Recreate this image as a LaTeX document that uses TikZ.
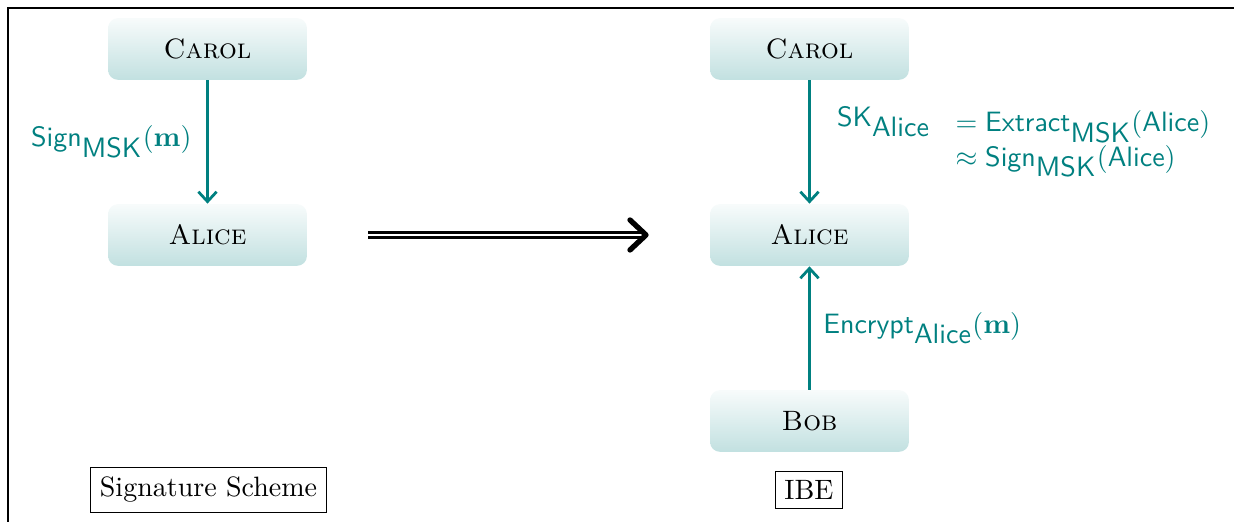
\documentclass[tikz,border=0pt]{standalone}
\usetikzlibrary{arrows.meta}
\begin{document}
\begin{tikzpicture}[x=0.357pt,y=-0.357pt,
  party/.style={rounded corners=3.5pt, top color=teal!3, bottom color=teal!24,
    minimum width=71pt, minimum height=22pt, inner sep=0pt, font=\scshape},
  msg/.style={draw=teal, line width=1pt, -{Straight Barb[length=3.5pt,width=6.5pt]}},
  lbl/.style={text=teal},
  caption/.style={draw, line width=0.4pt, inner sep=3.33pt},
  frameline/.style={line width=0.4pt},
  implies/.style={line width=0.9pt, double distance=1pt, double=white},
  impliestip/.style={line width=1.9pt, line cap=round, line join=round}]
\useasboundingbox (0,0) rectangle (1234,522);
\coordinate (f1) at (8,522);
\coordinate (f2) at (8,8);
\coordinate (f3) at (1234,8);
\draw[frameline] (f1) -- (f2) -- (f3);

\node[party] (carolL) at (207.5,49) {Carol};
\node[party] (aliceL) at (207.5,235) {Alice};
\node[party] (carolR) at (809.5,49) {Carol};
\node[party] (aliceR) at (809.5,235) {Alice};
\node[party] (bob) at (809.5,421) {Bob};
\node[caption] (sig) at (208.5,490) {Signature Scheme};
\node[caption] (ibe) at (809,490) {IBE};

\draw[msg] (carolL) -- node[lbl, left=1.9pt] {$\textsf{Sign}_\textsf{MSK}(\mathbf{m})$} (aliceL);
\draw[msg] (carolR) -- node[lbl, right=0pt] {\begin{tabular}{l@{\hspace{9pt}}l}
  \raisebox{1.8pt}{$\textsf{SK}_\textsf{Alice}$} & $=\textsf{Extract}_\textsf{MSK}(\textsf{Alice})$\\
  & $\approx\textsf{Sign}_\textsf{MSK}(\textsf{Alice})$
  \end{tabular}} (aliceR);
\draw[msg] (bob) -- node[lbl, right=1.1pt] {$\textsf{Encrypt}_\textsf{Alice}(\mathbf{m})$} (aliceR);

\coordinate (ds) at (368,235);
\coordinate (de) at (644,235);
\coordinate (tip) at (646,235);
\draw[implies] (ds) -- (de);
\draw[impliestip] (tip) ++(-16,-15) -- (tip) -- ++(-16,15);
\end{tikzpicture}
\end{document}
